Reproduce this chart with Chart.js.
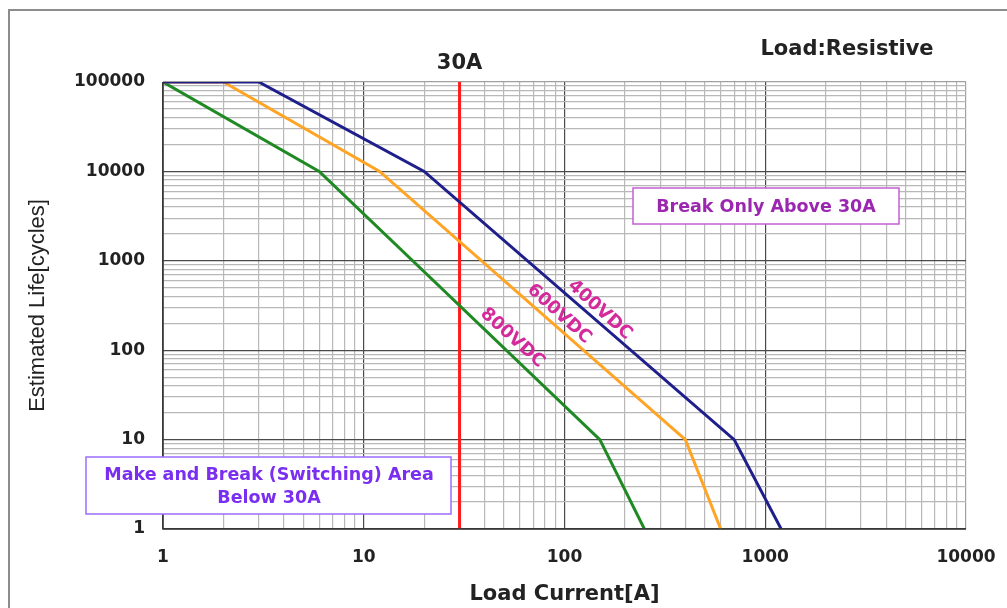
<!DOCTYPE html>
<html>
<head>
<meta charset="utf-8">
<script src="https://cdn.jsdelivr.net/npm/chart.js@4.4.0/dist/chart.umd.min.js"></script>
<style>
  html, body { margin: 0; padding: 0; background: #fff; }
  #wrap { width: 1007px; height: 608px; position: relative; }
</style>
</head>
<body>
<div id="wrap"><canvas id="lifeChart"></canvas></div>
<script>
// curve data (load current A, life cycles)
const current400 = [1, 3, 20, 700, 1200];
const life400    = [100000, 100000, 10000, 10, 1];
const current600 = [1, 2, 12, 400, 600];
const life600    = [100000, 100000, 10000, 10, 1];
const current800 = [1, 6, 150, 250];
const life800    = [100000, 10000, 10, 1];
const limitCurrent = 30;
const xTickValues = [1, 10, 100, 1000, 10000];
const yTickValues = [1, 10, 100, 1000, 10000, 100000];

// curve labels placed in data coordinates
const curveLabels = [
    { text: '400VDC', x: 150, y: 282 },
    { text: '600VDC', x: 94, y: 254 },
    { text: '800VDC', x: 55, y: 137 }
];

function toPoints(xs, ys) {
    return xs.map((x, i) => ({ x: x, y: ys[i] }));
}

// every 1..9 x 10^n value between min and max, for the log grid
function logGrid(min, max) {
    const out = [];
    for (let d = min; d < max; d *= 10) {
        for (let k = 1; k < 10; k++) out.push(k * d);
    }
    out.push(max);
    return out;
}

function isDecade(v) {
    const l = Math.log10(v);
    return Math.abs(l - Math.round(l)) < 1e-9;
}

const FONT = "'DejaVu Sans', sans-serif";

const decorPlugin = {
    id: 'decor',
    beforeDraw(chart) {
        const ctx = chart.ctx;
        ctx.save();
        ctx.fillStyle = '#fff';
        ctx.fillRect(0, 0, chart.width, chart.height);
        // outer frame (only left / top visible in the crop)
        ctx.strokeStyle = '#8c8c8c';
        ctx.lineWidth = 2;
        ctx.beginPath();
        ctx.moveTo(9, chart.height);
        ctx.lineTo(9, 10);
        ctx.lineTo(chart.width, 10);
        ctx.stroke();
        ctx.restore();
    },
    afterDraw(chart) {
        const ctx = chart.ctx;
        const xs = chart.scales.x, ys = chart.scales.y;
        const area = chart.chartArea;
        ctx.save();

        // plot border: dark left/bottom
        ctx.strokeStyle = '#333';
        ctx.lineWidth = 1.5;
        ctx.beginPath();
        ctx.moveTo(area.left, area.top);
        ctx.lineTo(area.left, area.bottom);
        ctx.lineTo(area.right, area.bottom);
        ctx.stroke();

        ctx.fillStyle = '#222';
        ctx.textAlign = 'center';
        ctx.textBaseline = 'middle';
        ctx.font = 'bold 21px ' + FONT;
        ctx.fillText('30A', xs.getPixelForValue(limitCurrent), 64);
        ctx.fillText('Load:Resistive', 847, 50);

        // rotated curve labels
        ctx.fillStyle = '#d42a9c';
        ctx.font = 'bold 18px ' + FONT;
        curveLabels.forEach(l => {
            ctx.save();
            ctx.translate(xs.getPixelForValue(l.x), ys.getPixelForValue(l.y));
            ctx.rotate(42 * Math.PI / 180);
            ctx.fillText(l.text, 0, 0);
            ctx.restore();
        });

        // "Break Only" box
        ctx.fillStyle = '#fff';
        ctx.fillRect(633, 188, 266, 36);
        ctx.strokeStyle = '#c45fd4';
        ctx.lineWidth = 1.5;
        ctx.strokeRect(633, 188, 266, 36);
        ctx.fillStyle = '#9b27b0';
        ctx.font = 'bold 17.5px ' + FONT;
        ctx.fillText('Break Only Above 30A', 766, 207);

        // "Make and Break" box
        ctx.fillStyle = '#fff';
        ctx.fillRect(86, 457, 365, 57);
        ctx.strokeStyle = '#9c6dff';
        ctx.strokeRect(86, 457, 365, 57);
        ctx.fillStyle = '#7a2ef0';
        ctx.fillText('Make and Break (Switching) Area', 269, 475);
        ctx.fillText('Below 30A', 269, 498);

        ctx.restore();
    }
};

// decades dark, everything else (and the far edges) light gray
function gridColorFor(maxValue) {
    return function(context) {
        if (!context.tick) return '#b8b8b8';
        const v = context.tick.value;
        if (v === maxValue) return '#a0a0a0';
        return isDecade(v) ? '#4a4a4a' : '#b8b8b8';
    };
}

new Chart(document.getElementById('lifeChart'), {
    type: 'scatter',
    data: {
        datasets: [
            {
                label: '400VDC',
                data: toPoints(current400, life400),
                borderColor: '#1f1f8c',
                borderWidth: 3
            },
            {
                label: '600VDC',
                data: toPoints(current600, life600),
                borderColor: '#ffa424',
                borderWidth: 3
            },
            {
                label: '800VDC',
                data: toPoints(current800, life800),
                borderColor: '#1f8a24',
                borderWidth: 3
            },
            {
                label: '30A',
                data: [{ x: limitCurrent, y: 1 }, { x: limitCurrent, y: 100000 }],
                borderColor: '#ff1c1c',
                borderWidth: 3
            }
        ]
    },
    options: {
        responsive: true,
        maintainAspectRatio: false,
        animation: false,
        showLine: true,
        elements: {
            point: { radius: 0, hoverRadius: 0 },
            line: { tension: 0 }
        },
        layout: {
            padding: { left: 0, top: 82, right: 41, bottom: 0 }
        },
        plugins: {
            legend: { display: false },
            tooltip: { enabled: false }
        },
        scales: {
            x: {
                type: 'logarithmic',
                min: 1,
                max: 10000,
                afterBuildTicks: function(scale) {
                    scale.ticks = logGrid(1, 10000).map(v => ({ value: v }));
                },
                afterFit: function(scale) {
                    scale.height = 79;
                    scale.paddingLeft = 0;
                    scale.paddingRight = 0;
                },
                grid: {
                    color: gridColorFor(10000),
                    lineWidth: 1.2,
                    drawTicks: false
                },
                border: { display: false },
                ticks: {
                    autoSkip: false,
                    maxRotation: 0,
                    padding: 18,
                    color: '#222',
                    font: { family: FONT, size: 17, weight: 'bold' },
                    callback: function(value) {
                        return xTickValues.includes(value) ? String(value) : '';
                    }
                },
                title: {
                    display: true,
                    text: 'Load Current[A]',
                    color: '#222',
                    font: { family: FONT, size: 21, weight: 'bold' },
                    padding: { top: 0, bottom: 1 }
                }
            },
            y: {
                type: 'logarithmic',
                min: 1,
                max: 100000,
                afterBuildTicks: function(scale) {
                    scale.ticks = logGrid(1, 100000).map(v => ({ value: v }));
                },
                afterFit: function(scale) {
                    scale.width = 163;
                    scale.paddingTop = 0;
                    scale.paddingBottom = 0;
                },
                grid: {
                    color: gridColorFor(100000),
                    lineWidth: 1.2,
                    drawTicks: false
                },
                border: { display: false },
                ticks: {
                    autoSkip: false,
                    padding: 18,
                    color: '#222',
                    font: { family: FONT, size: 17, weight: 'bold' },
                    callback: function(value) {
                        return yTickValues.includes(value) ? String(value) : '';
                    }
                },
                title: {
                    display: true,
                    text: 'Estimated Life[cycles]',
                    color: '#222',
                    font: { family: "'Liberation Sans', Arial, sans-serif", size: 22 },
                    padding: { top: 25, bottom: 0 }
                }
            }
        }
    },
    plugins: [decorPlugin]
});
</script>
</body>
</html>
